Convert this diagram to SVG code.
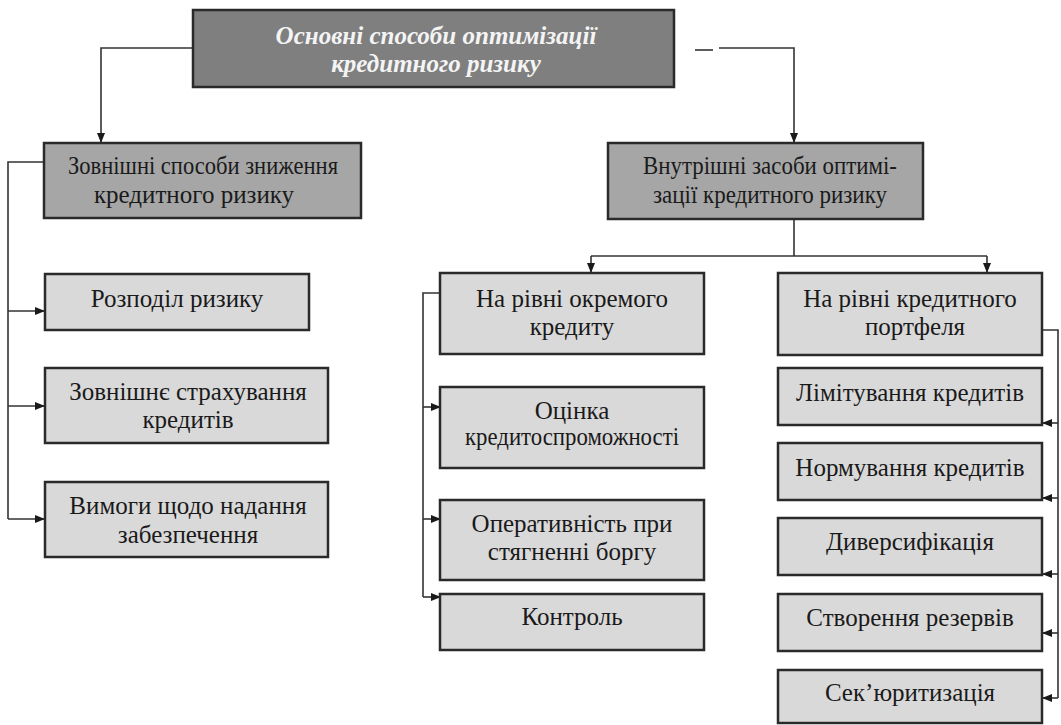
<svg xmlns="http://www.w3.org/2000/svg" width="1061" height="725" viewBox="0 0 1061 725">
<defs>
<marker id="arr" markerWidth="10" markerHeight="10" refX="9" refY="5" orient="auto" markerUnits="userSpaceOnUse">
<path d="M0,1 L10,5 L0,9 Z" fill="#1a1a1a"/>
</marker>
<style>
.box{stroke:#2a2a2a;stroke-width:2.5}
.dark{fill:#7f7f7f}
.mid{fill:#a6a6a6}
.light{fill:#d9d9d9}
.t{font-family:"Liberation Serif","Times New Roman",serif;font-size:25px;fill:#1a1a1a;text-anchor:middle}
.ti{font-family:"Liberation Serif","Times New Roman",serif;font-size:25px;font-style:italic;font-weight:bold;fill:#f4f4f4;text-anchor:middle}
.c{fill:none;stroke:#333;stroke-width:1.6}
</style>
</defs>
<rect width="1061" height="725" fill="#ffffff"/>
<g id="connectors">
<path class="c" d="M193,48 H101 V142" marker-end="url(#arr)"/>
<path class="c" d="M695,50 H713"/>
<path class="c" d="M719,48 H794 V142" marker-end="url(#arr)"/>
<path class="c" d="M44,162 H8 V519"/>
<path class="c" d="M8,311 H44" marker-end="url(#arr)"/>
<path class="c" d="M8,406 H44" marker-end="url(#arr)"/>
<path class="c" d="M8,519 H44" marker-end="url(#arr)"/>
<path class="c" d="M794,219 V256"/>
<path class="c" d="M591,256 H987"/>
<path class="c" d="M591,256 V272" marker-end="url(#arr)"/>
<path class="c" d="M987,256 V272" marker-end="url(#arr)"/>
<path class="c" d="M440,293 H423 V597"/>
<path class="c" d="M423,407 H440" marker-end="url(#arr)"/>
<path class="c" d="M423,519 H440" marker-end="url(#arr)"/>
<path class="c" d="M423,597 H440" marker-end="url(#arr)"/>
<path class="c" d="M1042,330 H1058 V698"/>
<path class="c" d="M1058,423 H1043" marker-end="url(#arr)"/>
<path class="c" d="M1058,498 H1043" marker-end="url(#arr)"/>
<path class="c" d="M1058,574 H1043" marker-end="url(#arr)"/>
<path class="c" d="M1058,633 H1043" marker-end="url(#arr)"/>
<path class="c" d="M1058,698 H1043" marker-end="url(#arr)"/>
</g>
<g id="root">
<rect class="box dark" x="193" y="10" width="481" height="77"/>
<text class="ti" x="436" y="44">Основні способи оптимізації</text>
<text class="ti" x="436" y="72">кредитного ризику</text>
</g>
<g id="external">
<rect class="box mid" x="44" y="143" width="317" height="75"/>
<text class="t" x="203" y="174" textLength="270" lengthAdjust="spacingAndGlyphs">Зовнішні способи зниження</text>
<text class="t" x="194" y="203">кредитного ризику</text>
</g>
<g id="internal">
<rect class="box mid" x="608" y="143" width="315" height="76"/>
<text class="t" x="770" y="174" textLength="254" lengthAdjust="spacingAndGlyphs">Внутрішні засоби оптимі-</text>
<text class="t" x="770" y="203" textLength="234" lengthAdjust="spacingAndGlyphs">зації кредитного ризику</text>
</g>
<g id="ext1">
<rect class="box light" x="45" y="274" width="264" height="56"/>
<text class="t" x="177" y="307">Розподіл ризику</text>
</g>
<g id="ext2">
<rect class="box light" x="45" y="368" width="283" height="75"/>
<text class="t" x="188" y="400">Зовнішнє страхування</text>
<text class="t" x="188" y="428">кредитів</text>
</g>
<g id="ext3">
<rect class="box light" x="45" y="482" width="283" height="75"/>
<text class="t" x="188" y="514">Вимоги щодо надання</text>
<text class="t" x="188" y="543">забезпечення</text>
</g>
<g id="single">
<rect class="box light" x="440" y="273" width="264" height="81"/>
<text class="t" x="572" y="307">На рівні окремого</text>
<text class="t" x="572" y="335">кредиту</text>
</g>
<g id="s1">
<rect class="box light" x="440" y="387" width="264" height="81"/>
<text class="t" x="572" y="419">Оцінка</text>
<text class="t" x="572" y="445" textLength="214" lengthAdjust="spacingAndGlyphs">кредитоспроможності</text>
</g>
<g id="s2">
<rect class="box light" x="440" y="500" width="264" height="80"/>
<text class="t" x="572" y="532">Оперативність при</text>
<text class="t" x="572" y="560">стягненні боргу</text>
</g>
<g id="s3">
<rect class="box light" x="440" y="594" width="264" height="56"/>
<text class="t" x="572" y="625">Контроль</text>
</g>
<g id="portfolio">
<rect class="box light" x="778" y="273" width="264" height="82"/>
<text class="t" x="910" y="307">На рівні кредитного</text>
<text class="t" x="915" y="335">портфеля</text>
</g>
<g id="p1">
<rect class="box light" x="778" y="368" width="264" height="57"/>
<text class="t" x="910" y="401">Лімітування кредитів</text>
</g>
<g id="p2">
<rect class="box light" x="778" y="443" width="264" height="57"/>
<text class="t" x="910" y="476">Нормування кредитів</text>
</g>
<g id="p3">
<rect class="box light" x="778" y="518" width="264" height="57"/>
<text class="t" x="910" y="550">Диверсифікація</text>
</g>
<g id="p4">
<rect class="box light" x="778" y="594" width="264" height="57"/>
<text class="t" x="910" y="626">Створення резервів</text>
</g>
<g id="p5">
<rect class="box light" x="778" y="670" width="264" height="53"/>
<text class="t" x="910" y="701">Сек’юритизація</text>
</g>
</svg>
